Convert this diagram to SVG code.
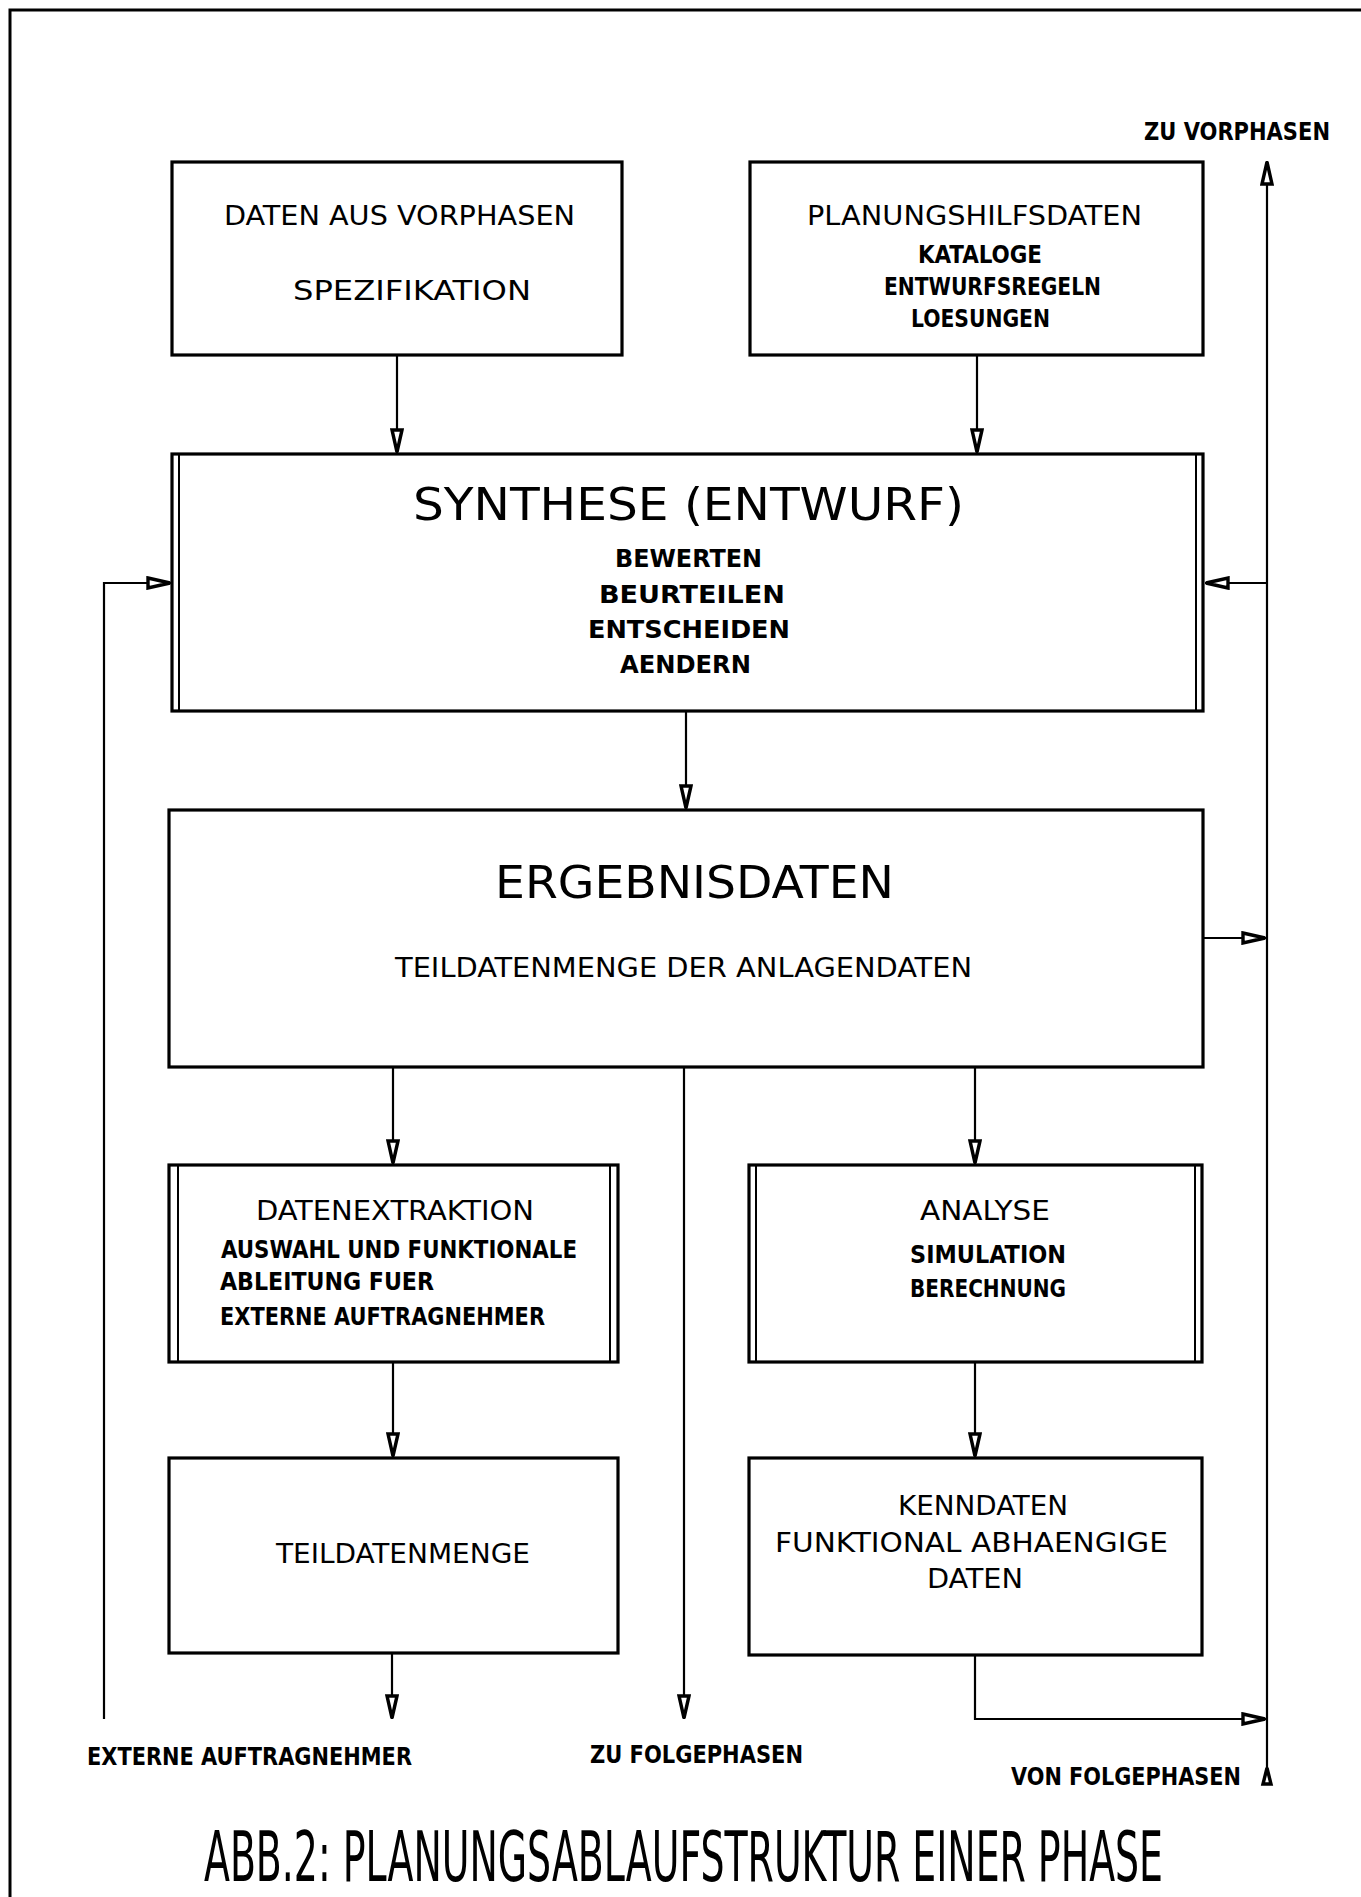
<svg xmlns="http://www.w3.org/2000/svg" width="1361" height="1897" viewBox="0 0 1361 1897">
<style>
.box{fill:none;stroke:#000;stroke-width:3.2}
.inner{stroke:#000;stroke-width:2}
.con{fill:none;stroke:#000;stroke-width:2.2}
text{font-family:"DejaVu Sans Condensed","DejaVu Sans","Liberation Sans",sans-serif;fill:#000}
.r{font-size:27px;font-weight:normal}
.b{font-size:24px;font-weight:bold}
.t{font-size:45px;font-weight:200}
.cap{font-size:40px;font-weight:200}
</style>
<defs>
<marker id="ah" viewBox="0 0 26 14" refX="25" refY="7" markerWidth="26" markerHeight="14" markerUnits="userSpaceOnUse" orient="auto">
<path d="M2,2 L24,7 L2,12 Z" fill="#fff" stroke="#000" stroke-width="3.4" stroke-linejoin="miter"/>
</marker>
</defs>
<rect width="1361" height="1897" fill="#fff"/>
<g id="frame">
<path d="M10,1897 L10,10 L1361,10" fill="none" stroke="#000" stroke-width="3"/>
</g>
<g id="connectors">
<path class="con" d="M397,354 L397,453" marker-end="url(#ah)"/>
<path class="con" d="M977,354 L977,453" marker-end="url(#ah)"/>
<path class="con" d="M1267,1770 L1267,161" marker-end="url(#ah)"/>
<path class="con" d="M1267,583 L1205,583" marker-end="url(#ah)"/>
<path class="con" d="M104,1719 L104,583 L171,583" marker-end="url(#ah)"/>
<path class="con" d="M686,712 L686,809" marker-end="url(#ah)"/>
<path class="con" d="M1203,938 L1266,938" marker-end="url(#ah)"/>
<path class="con" d="M393,1067 L393,1164" marker-end="url(#ah)"/>
<path class="con" d="M975,1067 L975,1164" marker-end="url(#ah)"/>
<path class="con" d="M684,1067 L684,1719" marker-end="url(#ah)"/>
<path class="con" d="M393,1362 L393,1457" marker-end="url(#ah)"/>
<path class="con" d="M975,1362 L975,1457" marker-end="url(#ah)"/>
<path class="con" d="M392,1654 L392,1719" marker-end="url(#ah)"/>
<path class="con" d="M975,1655 L975,1719 L1266,1719" marker-end="url(#ah)"/>
<path d="M1263,1784 L1267,1768 L1271,1784 Z" fill="#fff" stroke="#000" stroke-width="3.4"/>
</g>
<g id="n-daten-vorphasen">
<rect class="box" x="172" y="162" width="450" height="193"/>
<text class="r" x="224" y="225" textLength="351" lengthAdjust="spacingAndGlyphs">DATEN AUS VORPHASEN</text>
<text class="r" x="293" y="300" textLength="238" lengthAdjust="spacingAndGlyphs">SPEZIFIKATION</text>
</g>
<g id="n-planungshilfsdaten">
<rect class="box" x="750" y="162" width="453" height="193"/>
<text class="r" x="807" y="225" textLength="335" lengthAdjust="spacingAndGlyphs">PLANUNGSHILFSDATEN</text>
<text class="b" x="918" y="263" textLength="124" lengthAdjust="spacingAndGlyphs">KATALOGE</text>
<text class="b" x="884" y="295" textLength="217" lengthAdjust="spacingAndGlyphs">ENTWURFSREGELN</text>
<text class="b" x="911" y="327" textLength="139" lengthAdjust="spacingAndGlyphs">LOESUNGEN</text>
</g>
<g id="n-synthese">
<rect class="box" x="172" y="454" width="1031" height="257"/>
<line class="inner" x1="179" y1="455" x2="179" y2="710"/>
<line class="inner" x1="1196" y1="455" x2="1196" y2="710"/>
<text class="t" x="413" y="520" textLength="551" lengthAdjust="spacingAndGlyphs">SYNTHESE (ENTWURF)</text>
<text class="b" x="615" y="567" textLength="147" lengthAdjust="spacingAndGlyphs">BEWERTEN</text>
<text class="b" x="599" y="603" textLength="186" lengthAdjust="spacingAndGlyphs">BEURTEILEN</text>
<text class="b" x="588" y="638" textLength="202" lengthAdjust="spacingAndGlyphs">ENTSCHEIDEN</text>
<text class="b" x="620" y="673" textLength="131" lengthAdjust="spacingAndGlyphs">AENDERN</text>
</g>
<g id="n-ergebnisdaten">
<rect class="box" x="169" y="810" width="1034" height="257"/>
<text class="t" x="495" y="898" textLength="399" lengthAdjust="spacingAndGlyphs">ERGEBNISDATEN</text>
<text class="r" x="395" y="977" textLength="577" lengthAdjust="spacingAndGlyphs">TEILDATENMENGE DER ANLAGENDATEN</text>
</g>
<g id="n-datenextraktion">
<rect class="box" x="169" y="1165" width="449" height="197"/>
<line class="inner" x1="178" y1="1166" x2="178" y2="1361"/>
<line class="inner" x1="610" y1="1166" x2="610" y2="1361"/>
<text class="r" x="256" y="1220" textLength="278" lengthAdjust="spacingAndGlyphs">DATENEXTRAKTION</text>
<text class="b" x="221" y="1258" textLength="356" lengthAdjust="spacingAndGlyphs">AUSWAHL UND FUNKTIONALE</text>
<text class="b" x="220" y="1290" textLength="214" lengthAdjust="spacingAndGlyphs">ABLEITUNG FUER</text>
<text class="b" x="220" y="1325" textLength="325" lengthAdjust="spacingAndGlyphs">EXTERNE AUFTRAGNEHMER</text>
</g>
<g id="n-analyse">
<rect class="box" x="749" y="1165" width="453" height="197"/>
<line class="inner" x1="756" y1="1166" x2="756" y2="1361"/>
<line class="inner" x1="1195" y1="1166" x2="1195" y2="1361"/>
<text class="r" x="920" y="1220" textLength="130" lengthAdjust="spacingAndGlyphs">ANALYSE</text>
<text class="b" x="910" y="1263" textLength="156" lengthAdjust="spacingAndGlyphs">SIMULATION</text>
<text class="b" x="910" y="1297" textLength="156" lengthAdjust="spacingAndGlyphs">BERECHNUNG</text>
</g>
<g id="n-teildatenmenge">
<rect class="box" x="169" y="1458" width="449" height="195"/>
<text class="r" x="276" y="1563" textLength="254" lengthAdjust="spacingAndGlyphs">TEILDATENMENGE</text>
</g>
<g id="n-kenndaten">
<rect class="box" x="749" y="1458" width="453" height="197"/>
<text class="r" x="898" y="1515" textLength="170" lengthAdjust="spacingAndGlyphs">KENNDATEN</text>
<text class="r" x="775" y="1552" textLength="393" lengthAdjust="spacingAndGlyphs">FUNKTIONAL ABHAENGIGE</text>
<text class="r" x="927" y="1588" textLength="96" lengthAdjust="spacingAndGlyphs">DATEN</text>
</g>
<g id="labels">
<text class="b" x="1144" y="140" textLength="186" lengthAdjust="spacingAndGlyphs">ZU VORPHASEN</text>
<text class="b" x="87" y="1765" textLength="325" lengthAdjust="spacingAndGlyphs">EXTERNE AUFTRAGNEHMER</text>
<text class="b" x="590" y="1763" textLength="213" lengthAdjust="spacingAndGlyphs">ZU FOLGEPHASEN</text>
<text class="b" x="1011" y="1785" textLength="230" lengthAdjust="spacingAndGlyphs">VON FOLGEPHASEN</text>
<text class="cap" transform="translate(204,1881) scale(1,1.72)" x="0" y="0" textLength="959" lengthAdjust="spacingAndGlyphs">ABB.2: PLANUNGSABLAUFSTRUKTUR EINER PHASE</text>
</g>
</svg>
